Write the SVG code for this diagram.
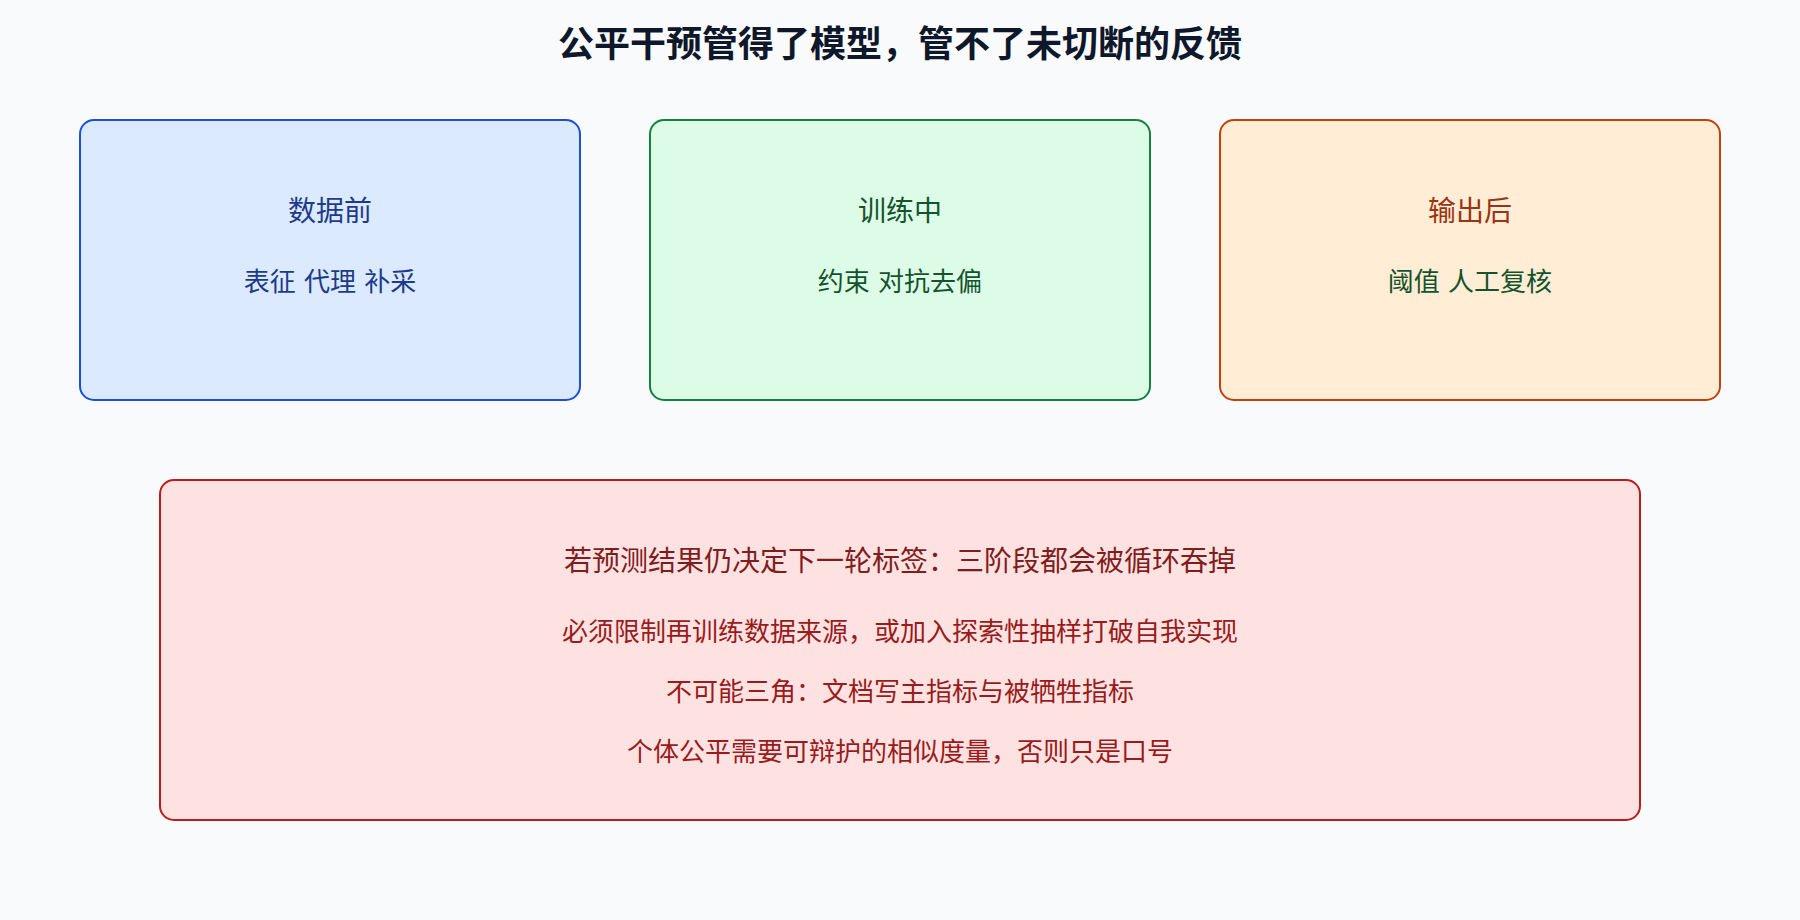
<svg xmlns="http://www.w3.org/2000/svg" width="1800" height="920" viewBox="0 0 1800 920">
<style>
text{font-family:"DejaVu Sans","Noto Sans CJK SC",sans-serif;text-anchor:middle}
.title{font-size:36px;font-weight:700;fill:#0f172a}
.h{font-size:28px}
.s{font-size:26px}
.box{stroke-width:2}
</style>
<rect x="0" y="0" width="1800" height="920" fill="#f8fafc"/>
<text class="title" x="900" y="57">公平干预管得了模型，管不了未切断的反馈</text>
<g id="node-data">
<rect class="box" x="80" y="120" width="500" height="280" rx="14" fill="#dbeafe" stroke="#1d4ed8"/>
<text class="h" x="330" y="221" fill="#1e3a8a">数据前</text>
<text class="s" x="330" y="291" fill="#1e3a8a">表征 代理 补采</text>
</g>
<g id="node-train">
<rect class="box" x="650" y="120" width="500" height="280" rx="14" fill="#dcfce7" stroke="#15803d"/>
<text class="h" x="900" y="221" fill="#14532d">训练中</text>
<text class="s" x="900" y="291" fill="#14532d">约束 对抗去偏</text>
</g>
<g id="node-output">
<rect class="box" x="1220" y="120" width="500" height="280" rx="14" fill="#ffedd5" stroke="#c2410c"/>
<text class="h" x="1470" y="221" fill="#9a3412">输出后</text>
<text class="s" x="1470" y="291" fill="#14532d">阈值 人工复核</text>
</g>
<g id="node-loop">
<rect class="box" x="160" y="480" width="1480" height="340" rx="14" fill="#fee2e2" stroke="#b91c1c"/>
<text class="h" x="900" y="571" fill="#7f1d1d">若预测结果仍决定下一轮标签：三阶段都会被循环吞掉</text>
<text class="s" x="900" y="641" fill="#991b1b">必须限制再训练数据来源，或加入探索性抽样打破自我实现</text>
<text class="s" x="900" y="701" fill="#991b1b">不可能三角：文档写主指标与被牺牲指标</text>
<text class="s" x="900" y="761" fill="#991b1b">个体公平需要可辩护的相似度量，否则只是口号</text>
</g>
<g id="connectors"></g>
</svg>
